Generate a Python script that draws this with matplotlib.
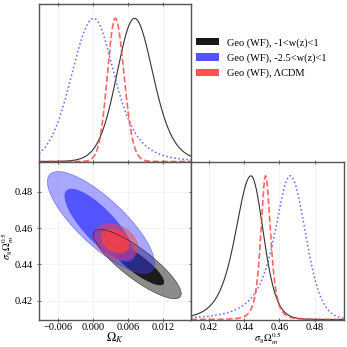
import numpy as np
import matplotlib
matplotlib.use('Agg')
import matplotlib.pyplot as plt
from matplotlib.patches import Patch

# runs: black = -1<w<1, blue = -2.5<w<1, red = LCDM
labels = ['Geo (WF), -1<w(z)<1', 'Geo (WF), -2.5<w(z)<1', 'Geo (WF), \u039bCDM']
colors = ['#000000', '#3f3fff', '#ff3f3f']
styles = ['-', ':', '--']

# 1D marginals: peak, half width at half max (low/high side),
# tail index of each side (large = gaussian-like)
ok_peak = [0.0071, 0.0001, 0.0038]
ok_hw_lo = [0.0036, 0.00446, 0.0016]
ok_hw_hi = [0.0038, 0.00423, 0.00177]
ok_nu_lo = [20, 30, 30]
ok_nu_hi = [8, 4, 30]

s8_peak = [0.4438, 0.4661, 0.4521]
s8_hw_lo = [0.0105, 0.0106, 0.0032]
s8_hw_hi = [0.0083, 0.0102, 0.0034]
s8_nu_lo = [4, 2, 3]
s8_nu_hi = [10, 15, 3]

# 2D contours (outer = 95%, inner = 68%): centre, half extent in x and y, correlation
outer_cx = [0.00759, 0.00134, 0.00394]
outer_cy = [0.4402, 0.4632, 0.4524]
outer_wx = [0.00752, 0.00920, 0.00372]
outer_wy = [0.0191, 0.0280, 0.00998]
outer_rho = [-0.85, -0.80, -0.30]

inner_cx = [0.00759, 0.00108, 0.00379]
inner_cy = [0.4402, 0.4615, 0.4529]
inner_wx = [0.00459, 0.0060, 0.00243]
inner_wy = [0.01165, 0.0202, 0.00681]
inner_rho = [-0.85, -0.80, -0.30]

ok_ticks = [-0.006, 0.000, 0.006, 0.012]
s8_ticks = [0.42, 0.44, 0.46, 0.48]
ok_lim = (-0.0093, 0.0168)
s8_lim = (0.4097, 0.4967)


def marginal(x, peak, hw_lo, hw_hi, nu_lo, nu_hi):
    out = np.empty_like(x)
    for side, hw, nu in ((x < peak, hw_lo, nu_lo), (x >= peak, hw_hi, nu_hi)):
        sig = hw / np.sqrt(nu * (2 ** (2.0 / (nu + 1)) - 1))
        d = (x[side] - peak) / sig
        out[side] = (1 + d ** 2 / nu) ** (-(nu + 1) / 2.0)
    return out


def ellipse(cx, cy, wx, wy, rho):
    t = np.linspace(0, 2 * np.pi, 300)
    cov = np.array([[wx * wx, rho * wx * wy], [rho * wx * wy, wy * wy]])
    L = np.linalg.cholesky(cov)
    pts = L @ np.vstack([np.cos(t), np.sin(t)])
    return cx + pts[0], cy + pts[1]


plt.rcParams['font.family'] = ['Liberation Serif', 'DejaVu Serif']
plt.rcParams['mathtext.fontset'] = 'stix'
plt.rcParams['font.size'] = 7.5

fig = plt.figure(figsize=(3.47, 3.47), dpi=100)
x0, x1, x2 = 39 / 347., 191 / 347., 344 / 347.
y0, y1, y2 = 1 - 319.5 / 347., 1 - 161.5 / 347., 1 - 4 / 347.
ax_ok = fig.add_axes([x0, y1, x1 - x0, y2 - y1])
ax_2d = fig.add_axes([x0, y0, x1 - x0, y1 - y0])
ax_s8 = fig.add_axes([x1, y0, x2 - x1, y1 - y0])

for ax in (ax_ok, ax_2d, ax_s8):
    for sp in ax.spines.values():
        sp.set_color('#555555')
        sp.set_linewidth(1.0)
    ax.tick_params(direction='inout', length=3, width=0.6, color='#555555',
                   top=True, right=True, labelsize=7.5)
    ax.tick_params(axis='x', pad=1)
    ax.tick_params(axis='y', pad=3)
    ax.grid(True, color='#eeeeee', linewidth=0.5)
    ax.set_axisbelow(True)

xo = np.linspace(ok_lim[0], ok_lim[1], 600)
xs = np.linspace(s8_lim[0], s8_lim[1], 600)
lws = [0.8, 1.1, 1.2]
for i in range(3):
    ax_ok.plot(xo, marginal(xo, ok_peak[i], ok_hw_lo[i], ok_hw_hi[i], ok_nu_lo[i], ok_nu_hi[i]),
               color=colors[i], ls=styles[i], lw=lws[i], alpha=0.8)
    ax_s8.plot(xs, marginal(xs, s8_peak[i], s8_hw_lo[i], s8_hw_hi[i], s8_nu_lo[i], s8_nu_hi[i]),
               color=colors[i], ls=styles[i], lw=lws[i], alpha=0.8)

for i in range(3):
    ex, ey = ellipse(outer_cx[i], outer_cy[i], outer_wx[i], outer_wy[i], outer_rho[i])
    ax_2d.fill(ex, ey, color=colors[i], alpha=0.45, lw=0)
    ax_2d.plot(ex, ey, color=colors[i], lw=0.5, alpha=0.6)
    ex, ey = ellipse(inner_cx[i], inner_cy[i], inner_wx[i], inner_wy[i], inner_rho[i])
    ax_2d.fill(ex, ey, color=colors[i], alpha=0.8, lw=0)

ax_ok.set_xlim(ok_lim)
ax_ok.set_ylim(0, 1.1)
ax_ok.set_xticks(ok_ticks)
ax_ok.set_xticklabels([])
ax_ok.set_yticks([])

ax_2d.set_xlim(ok_lim)
ax_2d.set_ylim(s8_lim)
ax_2d.set_xticks(ok_ticks)
ax_2d.set_xticklabels(['\u22120.006', '0.000', '0.006', '0.012'])
ax_2d.set_yticks(s8_ticks)
ax_2d.set_yticklabels(['0.42', '0.44', '0.46', '0.48'])
ax_2d.set_xlabel(r'$\Omega_K$', fontsize=9)
ax_2d.xaxis.set_label_coords(0.5, -0.07)
fig.text(8 / 347., 1 - 246 / 347., r'$\sigma_8\Omega_m^{0.5}$', fontsize=7.5,
         rotation=90, ha='center', va='center')

ax_s8.set_xlim(s8_lim)
ax_s8.set_ylim(0, 1.1)
ax_s8.set_xticks(s8_ticks)
ax_s8.set_xticklabels(['0.42', '0.44', '0.46', '0.48'])
ax_s8.set_yticks([])
ax_s8.set_xlabel(r'$\sigma_8\Omega_m^{0.5}$', fontsize=7.5)
ax_s8.xaxis.set_label_coords(0.5, -0.072)

handles = [Patch(facecolor=c, alpha=0.9) for c in colors]
fig.legend(handles, labels, loc='upper left', bbox_to_anchor=(196 / 347., 1 - 38 / 347.),
           frameon=False, handlelength=2.2, handleheight=0.7, handletextpad=0.8,
           labelspacing=0.55, borderaxespad=0, borderpad=0, fontsize=7.5)

fig.savefig('out.png', dpi=100)
